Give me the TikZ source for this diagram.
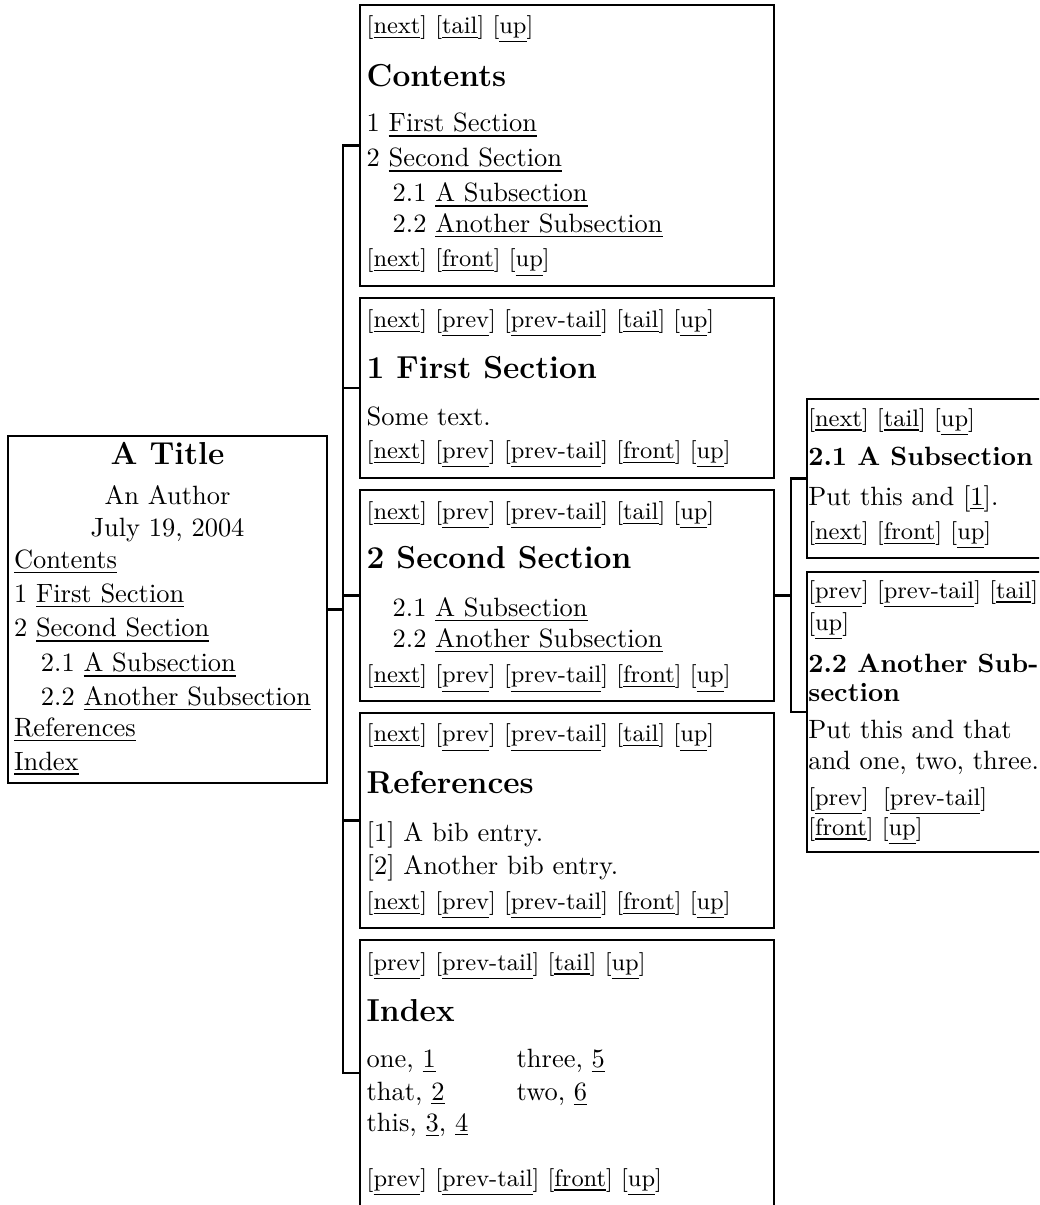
\documentclass[tikz,border=0pt]{standalone}
\newcommand\lk[1]{\underline{#1}}
\newcommand\nv[1]{[\underline{#1}]}
\def\pxu{0.3781pt}
\begin{document}
\begin{tikzpicture}[x=\pxu, y=-\pxu,
  pagebox/.style={draw, line width=0.9pt, anchor=north west, inner sep=0pt, outer sep=0pt},
  txt/.style={anchor=base west, inner sep=0pt, outer sep=0pt},
  navt/.style={txt, font=\small},
  hd/.style={txt, font=\large\bfseries},
  sbh/.style={txt, font=\bfseries},
  ctr/.style={anchor=base, inner sep=0pt, outer sep=0pt},
  wire/.style={line width=0.9pt}]
\useasboundingbox (0,0) rectangle (1039,1205);
\clip (0,0) rectangle (1039,1205);

% boxes
\node[pagebox, minimum width=319*\pxu, minimum height=347*\pxu] (title) at (8,436) {};
\node[pagebox, minimum width=414*\pxu, minimum height=281*\pxu] (contents) at (360,5) {};
\node[pagebox, minimum width=414*\pxu, minimum height=180*\pxu] (first) at (360,298) {};
\node[pagebox, minimum width=414*\pxu, minimum height=211*\pxu] (second) at (360,490) {};
\node[pagebox, minimum width=414*\pxu, minimum height=215*\pxu] (refs) at (360,713) {};
\node[pagebox, minimum width=414*\pxu, minimum height=266*\pxu] (index) at (360,940) {};
\node[pagebox, minimum width=250*\pxu, minimum height=159*\pxu] (sub1) at (807,399) {};
\node[pagebox, minimum width=250*\pxu, minimum height=280*\pxu] (sub2) at (807,572) {};

% connectors
\draw[wire] (title.east) -- ++(16,0);
\draw[wire] (contents.west) -- ++(-17,0) |- (index.west);
\draw[wire] (first.west) -- ++(-17,0);
\draw[wire] (second.west) -- ++(-17,0);
\draw[wire] (refs.west) -- ++(-17,0);
\draw[wire] (second.east) -- ++(17,0);
\draw[wire] (sub1.west) -- ++(-16,0) |- (sub2.west);

% title page
\node[ctr, font=\large\bfseries] (t1) at (167.5,464) {A Title};
\node[ctr] (t2) at (167.5,504) {An Author};
\node[ctr] (t3) at (167.5,536) {July 19, 2004};
\node[txt] (t4) at (14,568.3) {\lk{Contents}};
\node[txt] (t5) at (14,602.5) {1 \lk{First Section}};
\node[txt] (t6) at (14,636.7) {2 \lk{Second Section}};
\node[txt] (t7) at (41,671.7) {2.1 \lk{A Subsection}};
\node[txt] (t8) at (41,705) {2.2 \lk{Another Subsection}};
\node[txt] (t9) at (14,736) {\lk{References}};
\node[txt] (t10) at (14,770) {\lk{Index}};

% contents
\node[navt] (c1) at (366.7,33.3) {\nv{next} \nv{tail} \nv{up}};
\node[hd] (c2) at (366.7,86) {Contents};
\node[txt] (c3) at (366.7,131.7) {1 \lk{First Section}};
\node[txt] (c4) at (366.7,166.7) {2 \lk{Second Section}};
\node[txt] (c5) at (392.7,201.7) {2.1 \lk{A Subsection}};
\node[txt] (c6) at (392.7,232.3) {2.2 \lk{Another Subsection}};
\node[navt] (c7) at (366.7,266.7) {\nv{next} \nv{front} \nv{up}};

% first section
\node[navt] (f1) at (366.7,327.3) {\nv{next} \nv{prev} \nv{prev-tail} \nv{tail} \nv{up}};
\node[hd] (f2) at (366.7,378.3) {1 First Section};
\node[txt] (f3) at (366.7,425) {Some text.};
\node[navt] (f4) at (366.7,458.3) {\nv{next} \nv{prev} \nv{prev-tail} \nv{front} \nv{up}};

% second section
\node[navt] (s1) at (366.7,519.3) {\nv{next} \nv{prev} \nv{prev-tail} \nv{tail} \nv{up}};
\node[hd] (s2) at (366.7,568.3) {2 Second Section};
\node[txt] (s3) at (392.7,616) {2.1 \lk{A Subsection}};
\node[txt] (s4) at (392.7,647.3) {2.2 \lk{Another Subsection}};
\node[navt] (s5) at (366.7,682.7) {\nv{next} \nv{prev} \nv{prev-tail} \nv{front} \nv{up}};

% references
\node[navt] (r1) at (366.7,741.7) {\nv{next} \nv{prev} \nv{prev-tail} \nv{tail} \nv{up}};
\node[hd] (r2) at (366.7,793.3) {References};
\node[txt] (r3) at (366.7,841.7) {[1] A bib entry.};
\node[txt] (r4) at (366.7,874) {[2] Another bib entry.};
\node[navt] (r5) at (366.7,909.3) {\nv{next} \nv{prev} \nv{prev-tail} \nv{front} \nv{up}};

% index
\node[navt] (i1) at (366.7,970) {\nv{prev} \nv{prev-tail} \nv{tail} \nv{up}};
\node[hd] (i2) at (366.7,1021) {Index};
\node[txt] (i3) at (366.7,1067.5) {one, \lk{1}};
\node[txt] (i4) at (516.7,1067.5) {three, \lk{5}};
\node[txt] (i5) at (366.7,1100) {that, \lk{2}};
\node[txt] (i6) at (516.7,1100) {two, \lk{6}};
\node[txt] (i7) at (366.7,1131) {this, \lk{3}, \lk{4}};
\node[navt] (i8) at (366.7,1186) {\nv{prev} \nv{prev-tail} \nv{front} \nv{up}};

% subsection 2.1
\node[navt] (a1) at (808.3,426) {\nv{next} \nv{tail} \nv{up}};
\node[sbh] (a2) at (808.3,465) {2.1 A Subsection};
\node[txt] (a3) at (808.3,505) {Put this and [\lk{1}].};
\node[navt] (a4) at (808.3,539.5) {\nv{next} \nv{front} \nv{up}};

% subsection 2.2
\node[navt] (b1) at (808.3,598) {\nv{prev} \nv{prev-tail} \nv{tail}};
\node[navt] (b2) at (808.3,630) {\nv{up}};
\node[sbh] (b3) at (808.3,672) {2.2 Another Sub-};
\node[sbh] (b4) at (808.3,701) {section};
\node[txt] (b5) at (808.3,738) {Put this and that};
\node[txt] (b6) at (808.3,769) {and one, two, three.};
\node[navt] (b7) at (808.3,805) {\nv{prev}\hspace{0.6em}\nv{prev-tail}};
\node[navt] (b8) at (808.3,835) {\nv{front} \nv{up}};
\end{tikzpicture}
\end{document}
